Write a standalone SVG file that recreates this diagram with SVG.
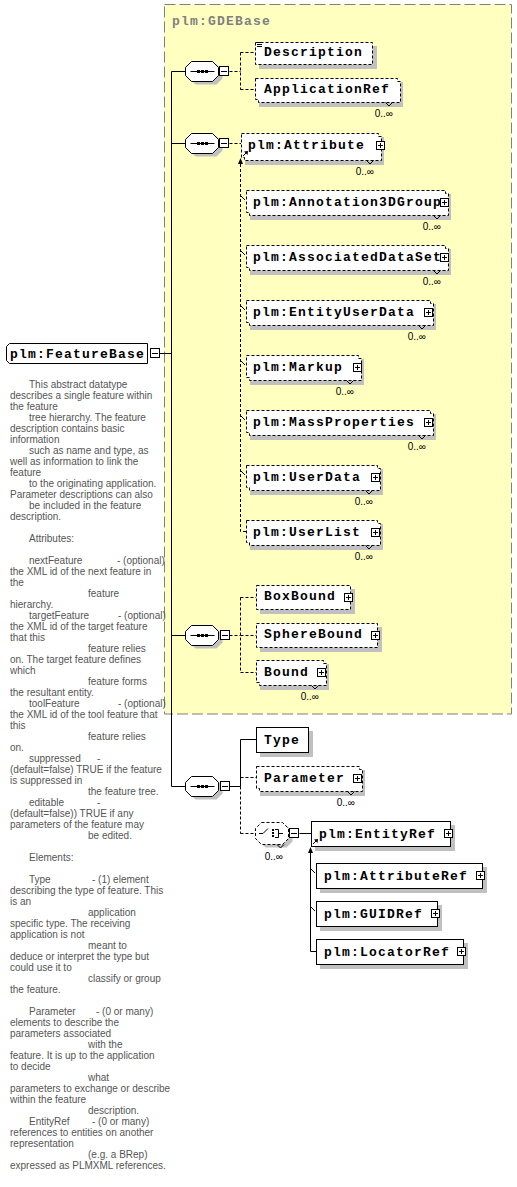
<svg xmlns="http://www.w3.org/2000/svg" width="517" height="1187" viewBox="0 0 517 1187">
<style>
.bx{fill:#fff;stroke:#000;stroke-width:1}
.dash{stroke-dasharray:3,2}
.ln{fill:none;stroke:#000;stroke-width:1}
.sh{fill:#c0c0c0}
.t{font-family:"Liberation Mono","Courier New",monospace;font-weight:bold;font-size:13px;letter-spacing:1.2px;fill:#000}
.o{font-family:"Liberation Sans",Arial,sans-serif;font-size:10px;fill:#000}
.d{font-family:"Liberation Sans",Arial,sans-serif;font-size:10px;fill:#555}
.blk{fill:#000}
</style>
<defs>
<g id="mn"><rect class="bx" x="0.5" y="0.5" width="9" height="9"/><path class="ln" d="M2,5.5H8"/></g>
<g id="pl"><rect class="bx" x="0.5" y="0.5" width="8" height="8"/><path class="ln" d="M2,4.5H7M4.5,2V7"/></g>
<g id="seq">
<path class="sh" d="M10,-7H31L37,-1V7L31,13H10L4,7V-1Z"/>
<path class="bx" d="M6,-10H27L33,-4V4L27,10H6L0,4V-4Z"/>
<path class="ln" d="M5,0H29"/>
<rect class="blk" x="11.5" y="-1.5" width="3" height="3"/>
<rect class="blk" x="15.5" y="-1.5" width="3" height="3"/>
<rect class="blk" x="19.5" y="-1.5" width="3" height="3"/>
</g>
<g id="subarrow"><path class="blk" d="M0,0L-2.5,6H2.5Z"/></g>
<g id="headicon"><path class="ln" d="M0,4L4,0"/><path class="blk" d="M5,-1L1,-0.5L4.5,3Z"/></g>
</defs>

<rect id="GDEBase" x="164.5" y="4.5" width="347" height="709.5" fill="#ffffc0" stroke="#808080" stroke-dasharray="11,4"/>
<text class="t" x="172" y="25" style="fill:#808080">plm:GDEBase</text>

<g id="connectors">
<path class="ln" d="M160,353.5H171.5M171.5,71.5V786.5M171.5,71.5H185.5M171.5,143.5H185.5M171.5,635.5H185.5M171.5,786.5H185.5"/>
<path class="ln dash" d="M229.5,71.5H240.5M240.5,52.5V89.5M240.5,52.5H255M240.5,89.5H255"/>
<path class="ln dash" d="M229.5,143.5H241"/>
<path class="ln dash" d="M240.5,164V531.5H246"/>
<use href="#subarrow" x="240.5" y="158"/>
<path class="ln" d="M241,196L245,200M241,251L245,255M241,306L245,310M241,361L245,365M241,416L245,420M241,471L245,475"/>
<path class="ln dash" d="M229.5,635.5H240.5M240.5,597.5V672.5M240.5,597.5H256M240.5,635.5H256M240.5,672.5H256"/>
<path class="ln" d="M229.5,786.5H240.5M240.5,739.5V786.5M240.5,739.5H256"/>
<path class="ln dash" d="M240.5,786.5V833.5M240.5,777.5H256M240.5,833.5H255.5"/>
<path class="ln" d="M299.5,833.5H311"/>
<path class="ln" d="M310.5,852V951.5H316M311,869L315,873M311,907L315,911"/>
<use href="#subarrow" x="310.5" y="847"/>
</g>

<g id="FeatureBase">
<path class="bx" d="M9.5,343.5H147.5V363.5H9.5L6.5,360.5V346.5Z"/>
<text class="t" x="10" y="357.5">plm:FeatureBase</text>
<use href="#mn" x="150" y="348"/>
</g>

<g id="seq1"><use href="#seq" x="185.5" y="71.5"/><use href="#mn" x="219" y="66"/></g>
<g id="seq2"><use href="#seq" x="185.5" y="143.5"/><use href="#mn" x="219" y="138"/></g>
<g id="seq3"><use href="#seq" x="185.5" y="635.5"/><use href="#mn" x="220" y="630"/></g>
<g id="seq4"><use href="#seq" x="185.5" y="786.5"/><use href="#mn" x="220" y="781"/></g>

<g id="Description">
<rect class="sh" x="259" y="46" width="118" height="23"/>
<rect class="bx dash" x="255.5" y="42.5" width="117" height="22"/>
<path class="ln" d="M257,42.5H262M257,44.5H262M257,46.5H262"/>
<text class="t" x="264" y="56">Description</text>
</g>

<g id="ApplicationRef">
<rect class="sh" x="259" y="82" width="144" height="25"/>
<path class="bx dash" d="M255.5,78.5H397.5V81.5H400.5V102.5H258.5V99.5H255.5Z"/>
<path class="ln" d="M385.5,102.5L389,106L392.5,102.5"/>
<text class="t" x="264" y="93">ApplicationRef</text>
<text class="o" x="393" y="117" text-anchor="end">0..∞</text>
</g>

<g id="Attribute">
<rect class="sh" x="245" y="137" width="139" height="28"/>
<path class="bx dash" d="M241.5,133.5H378.5V136.5H381.5V160.5H244.5V157.5H241.5Z"/>
<path class="ln" d="M366.5,160.5L370,164L373.5,160.5"/>
<text class="t" x="248" y="149">plm:Attribute</text>
<use href="#pl" x="376" y="141"/>
<use href="#headicon" x="243" y="152"/>
<text class="o" x="374" y="175" text-anchor="end">0..∞</text>
</g>

<g id="Annotation3DGroup">
<rect class="sh" x="250" y="194" width="201" height="26"/>
<path class="bx dash" d="M246.5,190.5H445.5V193.5H448.5V215.5H249.5V212.5H246.5Z"/>
<path class="ln" d="M433.5,215.5L437,219L440.5,215.5"/>
<text class="t" x="253" y="206">plm:Annotation3DGroup</text>
<use href="#pl" x="440" y="198"/>
<text class="o" x="441" y="230" text-anchor="end">0..∞</text>
</g>

<g id="AssociatedDataSet">
<rect class="sh" x="250" y="249" width="201" height="26"/>
<path class="bx dash" d="M246.5,245.5H445.5V248.5H448.5V270.5H249.5V267.5H246.5Z"/>
<path class="ln" d="M433.5,270.5L437,274L440.5,270.5"/>
<text class="t" x="253" y="261">plm:AssociatedDataSet</text>
<use href="#pl" x="440" y="253"/>
<text class="o" x="441" y="285" text-anchor="end">0..∞</text>
</g>

<g id="EntityUserData">
<rect class="sh" x="250" y="304" width="186" height="26"/>
<path class="bx dash" d="M246.5,300.5H430.5V303.5H433.5V325.5H249.5V322.5H246.5Z"/>
<path class="ln" d="M418.5,325.5L422,329L425.5,325.5"/>
<text class="t" x="253" y="316">plm:EntityUserData</text>
<use href="#pl" x="424" y="308"/>
<text class="o" x="426" y="340" text-anchor="end">0..∞</text>
</g>

<g id="Markup">
<rect class="sh" x="250" y="359" width="114" height="26"/>
<path class="bx dash" d="M246.5,355.5H358.5V358.5H361.5V380.5H249.5V377.5H246.5Z"/>
<path class="ln" d="M346.5,380.5L350,384L353.5,380.5"/>
<text class="t" x="253" y="371">plm:Markup</text>
<use href="#pl" x="353" y="363"/>
<text class="o" x="354" y="395" text-anchor="end">0..∞</text>
</g>

<g id="MassProperties">
<rect class="sh" x="250" y="414" width="186" height="26"/>
<path class="bx dash" d="M246.5,410.5H430.5V413.5H433.5V435.5H249.5V432.5H246.5Z"/>
<path class="ln" d="M418.5,435.5L422,439L425.5,435.5"/>
<text class="t" x="253" y="426">plm:MassProperties</text>
<use href="#pl" x="424" y="418"/>
<text class="o" x="426" y="450" text-anchor="end">0..∞</text>
</g>

<g id="UserData">
<rect class="sh" x="250" y="469" width="133" height="26"/>
<path class="bx dash" d="M246.5,465.5H377.5V468.5H380.5V490.5H249.5V487.5H246.5Z"/>
<path class="ln" d="M365.5,490.5L369,494L372.5,490.5"/>
<text class="t" x="253" y="481">plm:UserData</text>
<use href="#pl" x="371" y="473"/>
<text class="o" x="373" y="505" text-anchor="end">0..∞</text>
</g>

<g id="UserList">
<rect class="sh" x="250" y="524" width="133" height="26"/>
<path class="bx dash" d="M246.5,520.5H377.5V523.5H380.5V545.5H249.5V542.5H246.5Z"/>
<path class="ln" d="M365.5,545.5L369,549L372.5,545.5"/>
<text class="t" x="253" y="536">plm:UserList</text>
<use href="#pl" x="371" y="528"/>
<text class="o" x="373" y="560" text-anchor="end">0..∞</text>
</g>

<g id="BoxBound">
<rect class="sh" x="260" y="589" width="95" height="25"/>
<rect class="bx dash" x="256.5" y="585.5" width="94" height="24"/>
<text class="t" x="264" y="600">BoxBound</text>
<use href="#pl" x="344" y="593"/>
</g>

<g id="SphereBound">
<rect class="sh" x="260" y="627" width="122" height="25"/>
<rect class="bx dash" x="256.5" y="623.5" width="121" height="24"/>
<text class="t" x="264" y="638">SphereBound</text>
<use href="#pl" x="371" y="631"/>
</g>

<g id="Bound">
<rect class="sh" x="260" y="664" width="69" height="26"/>
<path class="bx dash" d="M256.5,660.5H323.5V663.5H326.5V685.5H259.5V682.5H256.5Z"/>
<path class="ln" d="M311.5,685.5L315,689L318.5,685.5"/>
<text class="t" x="264" y="676">Bound</text>
<use href="#pl" x="317" y="668"/>
<text class="o" x="319" y="700" text-anchor="end">0..∞</text>
</g>

<g id="Type">
<rect class="sh" x="260" y="731" width="53" height="26"/>
<rect class="bx" x="256.5" y="727.5" width="52" height="25"/>
<text class="t" x="264" y="744">Type</text>
</g>

<g id="Parameter">
<rect class="sh" x="260" y="770" width="105" height="26"/>
<path class="bx dash" d="M256.5,766.5H359.5V769.5H362.5V791.5H259.5V788.5H256.5Z"/>
<path class="ln" d="M347.5,791.5L351,795L354.5,791.5"/>
<text class="t" x="264" y="782">Parameter</text>
<use href="#pl" x="353" y="774"/>
<text class="o" x="355" y="806" text-anchor="end">0..∞</text>
</g>

<g id="choice">
<path class="sh" d="M265.5,825.5H286.5L292.5,831.5V841.5L286.5,847.5H265.5L259.5,841.5V831.5Z"/>
<path class="bx dash" d="M261.5,822.5H282.5L288.5,828.5V838.5L282.5,844.5H261.5L255.5,838.5V828.5Z"/>
<path class="ln" d="M277,844.5L280.5,848L284,844.5"/>
<path class="ln" d="M259,833.5H263L268,828.5"/>
<rect class="blk" x="272" y="829" width="2" height="2"/>
<rect class="blk" x="272" y="832" width="2" height="2"/>
<rect class="blk" x="272" y="835" width="2" height="2"/>
<path class="ln" d="M275,829.5H278.5V837.5H275M278.5,833.5H283"/>
<use href="#mn" x="289" y="828"/>
<text class="o" x="283" y="860" text-anchor="end">0..∞</text>
</g>

<g id="EntityRef">
<rect class="sh" x="315" y="825" width="140" height="26"/>
<rect class="bx" x="311.5" y="821.5" width="139" height="25"/>
<text class="t" x="319" y="838">plm:EntityRef</text>
<use href="#pl" x="444" y="829"/>
<use href="#headicon" x="313" y="840"/>
</g>

<g id="AttributeRef">
<rect class="sh" x="320" y="867" width="167" height="26"/>
<rect class="bx" x="316.5" y="863.5" width="166" height="25"/>
<text class="t" x="324" y="880">plm:AttributeRef</text>
<use href="#pl" x="476" y="871"/>
</g>

<g id="GUIDRef">
<rect class="sh" x="320" y="905" width="122" height="26"/>
<rect class="bx" x="316.5" y="901.5" width="121" height="25"/>
<text class="t" x="324" y="918">plm:GUIDRef</text>
<use href="#pl" x="431" y="909"/>
</g>

<g id="LocatorRef">
<rect class="sh" x="320" y="943" width="148" height="26"/>
<rect class="bx" x="316.5" y="939.5" width="147" height="25"/>
<text class="t" x="324" y="956">plm:LocatorRef</text>
<use href="#pl" x="457" y="947"/>
</g>

<g id="annotation" class="d">
<text x="29" y="388">This abstract datatype</text>
<text x="10" y="399">describes a single feature within</text>
<text x="10" y="410">the feature</text>
<text x="29" y="421">tree hierarchy. The feature</text>
<text x="10" y="432">description contains basic</text>
<text x="10" y="443">information</text>
<text x="29" y="454">such as name and type, as</text>
<text x="10" y="465">well as information to link the</text>
<text x="10" y="476">feature</text>
<text x="29" y="487">to the originating application.</text>
<text x="10" y="498">Parameter descriptions can also</text>
<text x="29" y="509">be included in the feature</text>
<text x="10" y="520">description.</text>
<text x="29" y="542">Attributes:</text>
<text x="29" y="564">nextFeature</text><text x="117" y="564">- (optional)</text>
<text x="10" y="575">the XML id of the next feature in</text>
<text x="10" y="586">the</text>
<text x="88" y="597">feature</text>
<text x="10" y="608">hierarchy.</text>
<text x="29" y="619">targetFeature</text><text x="118" y="619">- (optional)</text>
<text x="10" y="630">the XML id of the target feature</text>
<text x="10" y="641">that this</text>
<text x="88" y="652">feature relies</text>
<text x="10" y="663">on. The target feature defines</text>
<text x="10" y="674">which</text>
<text x="88" y="685">feature forms</text>
<text x="10" y="696">the resultant entity.</text>
<text x="29" y="707">toolFeature</text><text x="118" y="707">- (optional)</text>
<text x="10" y="718">the XML id of the tool feature that</text>
<text x="10" y="729">this</text>
<text x="88" y="740">feature relies</text>
<text x="10" y="751">on.</text>
<text x="29" y="762">suppressed</text><text x="97" y="762">-</text>
<text x="10" y="773">(default=false) TRUE if the feature</text>
<text x="10" y="784">is suppressed in</text>
<text x="88" y="795">the feature tree.</text>
<text x="29" y="806">editable</text><text x="97" y="806">-</text>
<text x="10" y="817">(default=false)) TRUE if any</text>
<text x="10" y="828">parameters of the feature may</text>
<text x="88" y="839">be edited.</text>
<text x="29" y="861">Elements:</text>
<text x="29" y="883">Type</text><text x="92" y="883">- (1) element</text>
<text x="10" y="894">describing the type of feature. This</text>
<text x="10" y="905">is an</text>
<text x="88" y="916">application</text>
<text x="10" y="927">specific type. The receiving</text>
<text x="10" y="938">application is not</text>
<text x="88" y="949">meant to</text>
<text x="10" y="960">deduce or interpret the type but</text>
<text x="10" y="971">could use it to</text>
<text x="88" y="982">classify or group</text>
<text x="10" y="993">the feature.</text>
<text x="29" y="1015">Parameter</text><text x="96" y="1015">- (0 or many)</text>
<text x="10" y="1026">elements to describe the</text>
<text x="10" y="1037">parameters associated</text>
<text x="88" y="1048">with the</text>
<text x="10" y="1059">feature. It is up to the application</text>
<text x="10" y="1070">to decide</text>
<text x="88" y="1081">what</text>
<text x="10" y="1092">parameters to exchange or describe</text>
<text x="10" y="1103">within the feature</text>
<text x="88" y="1114">description.</text>
<text x="29" y="1125">EntityRef</text><text x="92" y="1125">- (0 or many)</text>
<text x="10" y="1136">references to entities on another</text>
<text x="10" y="1147">representation</text>
<text x="88" y="1158">(e.g. a BRep)</text>
<text x="10" y="1169">expressed as PLMXML references.</text>
</g>
</svg>
